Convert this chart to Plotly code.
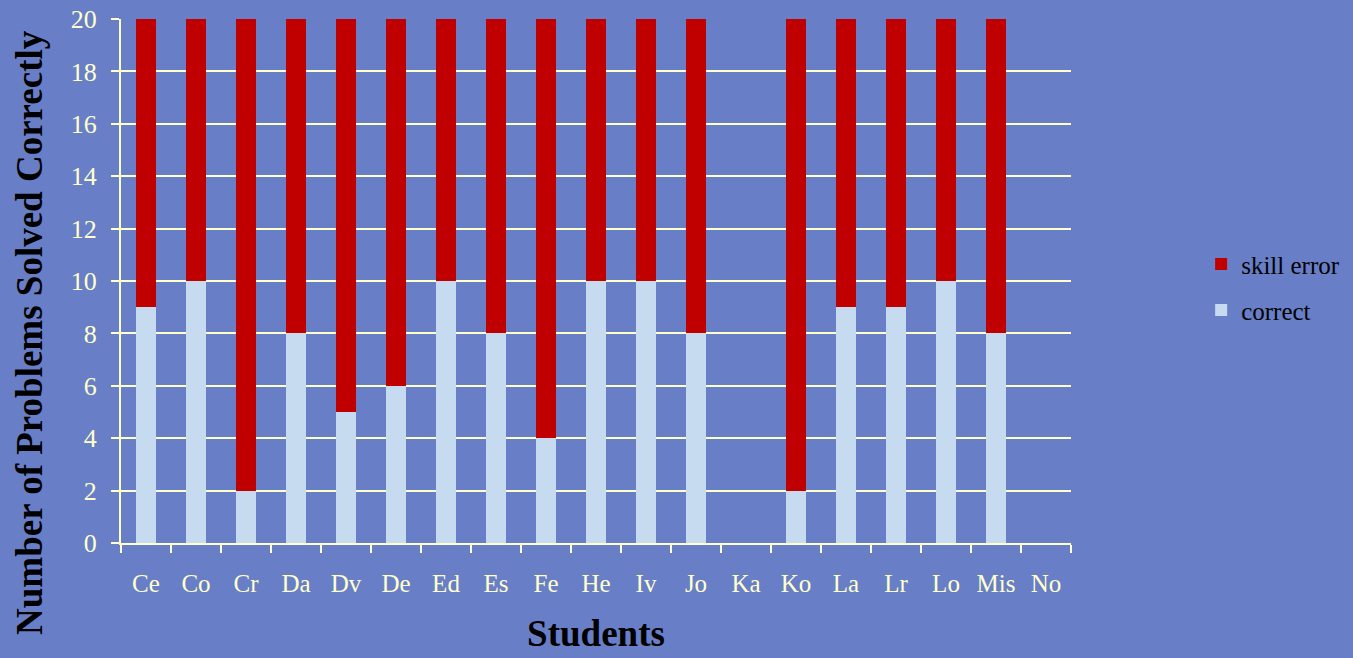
import plotly.graph_objects as go

students = ["Ce", "Co", "Cr", "Da", "Dv", "De", "Ed", "Es", "Fe", "He",
            "Iv", "Jo", "Ka", "Ko", "La", "Lr", "Lo", "Mis", "No"]
correct = [9, 10, 2, 8, 5, 6, 10, 8, 4, 10, 10, 8, 0, 2, 9, 9, 10, 8, 0]
skill_error = [11, 10, 18, 12, 15, 14, 10, 12, 16, 10, 10, 12, 0, 18, 11, 11, 10, 12, 0]

BG = "#687FC8"
CREAM = "#FFFFCC"
FONT = "Liberation Serif"

fig = go.Figure()
fig.add_trace(go.Bar(x=students, y=correct, name="correct",
                     marker=dict(color="#C6DBEF", line=dict(width=0)),
                     legend="legend2"))
fig.add_trace(go.Bar(x=students, y=skill_error, name="skill error",
                     marker=dict(color="#C00000", line=dict(width=0)),
                     legend="legend"))

legend_style = dict(xanchor="left", yanchor="middle", bgcolor="rgba(0,0,0,0)",
                    font=dict(family=FONT, size=25, color="black"))

fig.update_layout(
    width=1353, height=658,
    margin=dict(l=121, r=282, t=19, b=115, autoexpand=False),
    paper_bgcolor=BG, plot_bgcolor=BG,
    barmode="stack", bargap=0.6,
    font=dict(family=FONT, color=CREAM, size=25),
    showlegend=True,
    legend=dict(x=1.137, y=0.532, **legend_style),
    legend2=dict(x=1.137, y=0.444, **legend_style),
    xaxis=dict(
        automargin=False,
        showgrid=False, showline=True, linecolor=CREAM, linewidth=2,
        ticks="outside", tickson="boundaries", ticklen=8, tickwidth=2,
        tickcolor=CREAM, ticklabelstandoff=17,
        tickfont=dict(family=FONT, size=25, color=CREAM),
        title=dict(text="<b>Students</b>", standoff=24,
                   font=dict(family=FONT, size=37, color="black")),
    ),
    yaxis=dict(
        automargin=False,
        range=[0, 20], dtick=2, showgrid=True, gridcolor=CREAM, gridwidth=2,
        zeroline=False, showline=True, linecolor=CREAM, linewidth=2,
        ticks="outside", ticklen=8, tickwidth=2, tickcolor=CREAM,
        ticklabelstandoff=9,
        tickfont=dict(family=FONT, size=26, color=CREAM),
    ),
    annotations=[dict(
        text="<b>Number of Problems Solved Correctly</b>",
        xref="paper", yref="paper", x=-0.0958, y=0.4027,
        xanchor="center", yanchor="middle", textangle=-90, showarrow=False,
        font=dict(family=FONT, size=37, color="black"),
    )],
)

fig.write_html("out.html")
